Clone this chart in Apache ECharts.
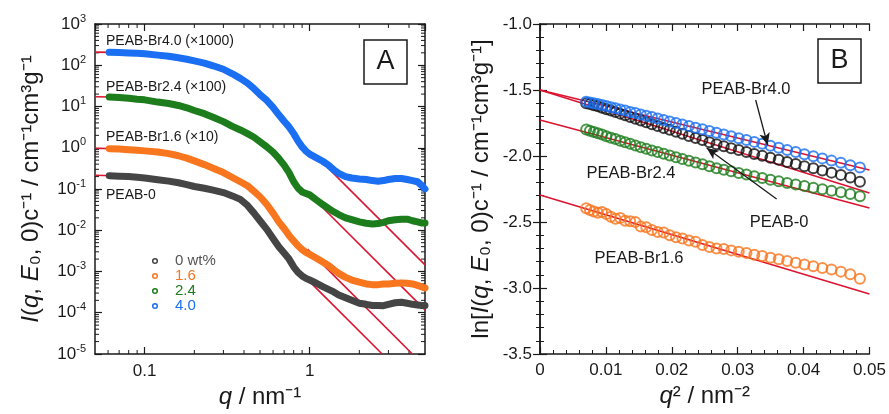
<!DOCTYPE html>
<html><head><meta charset="utf-8">
<script src="https://cdn.jsdelivr.net/npm/echarts@6/dist/echarts.min.js"></script>
<style>html,body{margin:0;padding:0;background:#fff}#c{width:889px;height:414px}</style>
</head><body><div id="c"></div>
<script>
// ---------- Panel A data: I(q) on log-log ----------
const qA = [0.061,0.07,0.08,0.09,0.1,0.12,0.14,0.16,0.18,0.2,0.23,0.26,0.3,0.34,0.38,0.42,0.46,0.5,0.55,0.6,0.65,0.7,0.75,0.8,0.85,0.9,0.95,1.0,1.1,1.2,1.3,1.4,1.5,1.65,1.8,2.0,2.2,2.4,2.6,2.8,3.0,3.3,3.6,3.9,4.2,4.5,4.8,5.0];
const IA_grey = [0.21,0.205,0.2,0.192,0.185,0.168,0.155,0.142,0.128,0.115,0.104,0.094,0.082,0.068,0.056,0.040,0.026,0.017,0.0105,0.0063,0.0040,0.0028,0.0020,0.0013,0.00095,0.00078,0.00068,0.00062,0.00052,0.00043,0.00037,0.00032,0.00027,0.00023,0.0002,0.00017,0.00016,0.00015,0.00015,0.000148,0.00016,0.000175,0.00018,0.00017,0.00016,0.000155,0.00015,0.00015];
const IA_orange = [0.95,0.93,0.90,0.87,0.84,0.79,0.72,0.64,0.56,0.48,0.39,0.32,0.25,0.19,0.15,0.12,0.088,0.065,0.042,0.026,0.016,0.011,0.0075,0.0055,0.0042,0.0034,0.0029,0.0026,0.0021,0.0017,0.0014,0.0011,0.0009,0.00072,0.00062,0.00055,0.0005,0.00048,0.00048,0.0005,0.0005,0.00052,0.00053,0.00052,0.0005,0.00046,0.00042,0.0004];
const IA_green = [17.0,16.5,15.8,15.0,14.5,12.8,11.8,10.6,9.3,8.0,6.7,5.5,4.3,3.3,2.7,2.2,1.8,1.4,1.05,0.78,0.55,0.38,0.25,0.15,0.105,0.085,0.078,0.072,0.054,0.042,0.034,0.028,0.024,0.020,0.018,0.016,0.0148,0.0142,0.0145,0.0155,0.017,0.018,0.0185,0.0185,0.017,0.016,0.015,0.015];
const IA_blue = [206,203,199,195,190,176,165,152,140,128,113,97,80,62,48,37,27,19.5,14,9.5,6.3,4.4,3.2,2.2,1.45,1.05,0.83,0.70,0.57,0.47,0.38,0.29,0.24,0.20,0.185,0.175,0.17,0.16,0.155,0.16,0.17,0.18,0.18,0.17,0.16,0.15,0.12,0.10];
// Guinier extrapolations (low q) and Porod q^-4 lines (high q), [q, I]
const guinierA_grey = [[0.05,0.215],[0.064,0.21]];
const guinierA_orange = [[0.05,0.97],[0.064,0.95]];
const guinierA_green = [[0.05,17.3],[0.064,17.0]];
const guinierA_blue = [[0.05,208],[0.064,205]];
const porodA_grey = [[1.0,5.7e-4],[2.75,1.0e-5]];
const porodA_orange = [[0.97,3.48e-3],[4.19,1.0e-5]];
const porodA_green = [[0.95,0.0896],[5.0,1.17e-4]];
const porodA_blue = [[1.1,0.618],[5.0,1.45e-3]];
const xTicksA = [0.1, 1];
// ---------- Panel B data: Guinier plot ----------
const q2B = [0.00701,0.00757,0.00816,0.00878,0.00941,0.01007,0.01075,0.01145,0.01217,0.01292,0.01369,0.01448,0.01529,0.01613,0.01698,0.01786,0.01877,0.01969,0.02064,0.02161,0.0226,0.02361,0.02465,0.02571,0.02679,0.02789,0.02901,0.03016,0.03133,0.03252,0.03373,0.03497,0.03623,0.03751,0.03881,0.04013,0.04148,0.04285,0.04424,0.04566,0.04709,0.04855];
const lnB_blue = [-1.589,-1.594,-1.600,-1.606,-1.614,-1.622,-1.630,-1.639,-1.647,-1.656,-1.666,-1.675,-1.685,-1.695,-1.705,-1.716,-1.727,-1.738,-1.750,-1.761,-1.773,-1.786,-1.798,-1.811,-1.824,-1.837,-1.851,-1.865,-1.879,-1.893,-1.908,-1.923,-1.938,-1.954,-1.970,-1.986,-2.002,-2.018,-2.035,-2.052,-2.070,-2.087];
const lnB_grey = [-1.600,-1.607,-1.615,-1.624,-1.634,-1.645,-1.656,-1.667,-1.679,-1.692,-1.705,-1.718,-1.731,-1.745,-1.759,-1.773,-1.788,-1.802,-1.817,-1.832,-1.848,-1.863,-1.879,-1.895,-1.911,-1.926,-1.941,-1.955,-1.970,-1.985,-1.999,-2.014,-2.029,-2.045,-2.061,-2.077,-2.093,-2.109,-2.126,-2.143,-2.162,-2.195];
const lnB_green = [-1.800,-1.808,-1.818,-1.828,-1.838,-1.850,-1.862,-1.872,-1.884,-1.895,-1.907,-1.920,-1.933,-1.946,-1.958,-1.970,-1.983,-1.996,-2.009,-2.022,-2.036,-2.049,-2.063,-2.078,-2.092,-2.104,-2.116,-2.128,-2.141,-2.154,-2.166,-2.180,-2.192,-2.205,-2.216,-2.228,-2.240,-2.252,-2.263,-2.275,-2.288,-2.305];
const lnB_orange = [-2.396,-2.41,-2.42,-2.43,-2.425,-2.44,-2.46,-2.475,-2.47,-2.49,-2.495,-2.50,-2.535,-2.54,-2.56,-2.575,-2.58,-2.60,-2.615,-2.625,-2.64,-2.65,-2.675,-2.69,-2.70,-2.705,-2.715,-2.725,-2.735,-2.748,-2.758,-2.77,-2.782,-2.795,-2.808,-2.822,-2.835,-2.848,-2.86,-2.876,-2.895,-2.93];
const fitB_blue = [[0,-1.5],[0.05,-2.106]];
const fitB_grey = [[0,-1.5],[0.05,-2.28]];
const fitB_green = [[0,-1.727],[0.05,-2.394]];
const fitB_orange = [[0,-2.295],[0.05,-3.045]];
const arrowB_Br40 = [[0.03273,-1.576],[0.03455,-1.917]];
const arrowB_0 = [[0.03591,-2.326],[0.0253,-1.939]];

const C = {grey:'#454545', orange:'#f7761e', green:'#1d7d1d', blue:'#1a6ff2', red:'#dc1430', ink:'#1a1a1a'};
const FONT = '"Liberation Sans", Arial, sans-serif';
const NAME_FS = 24, TICK_FS = 17;

const zip = (xs, ys) => xs.map((x, i) => [x, ys[i]]);

// minor tick positions for log axes
const xMinorA = [], yMinorA = [];
for (let e = -2; e <= 0; e++) for (let m = 2; m <= 9; m++) { const v = m * Math.pow(10, e); if (v > 0.05 && v < 5) xMinorA.push([v, 1, 0]); }
for (let e = -5; e <= 2; e++) for (let m = 2; m <= 9; m++) yMinorA.push([0.1, m * Math.pow(10, e), 1]);

function minorTicks(params, api) {
  const cs = params.coordSys, len = 4, kind = api.value(2);
  const st = {stroke: C.ink, lineWidth: 1};
  if (kind === 0) {
    const x = api.coord([api.value(0), 1])[0];
    return {type:'group', children:[
      {type:'line', shape:{x1:x, y1:cs.y+cs.height, x2:x, y2:cs.y+cs.height-len}, style:st},
      {type:'line', shape:{x1:x, y1:cs.y, x2:x, y2:cs.y+len}, style:st}]};
  }
  const y = api.coord([0.1, api.value(1)])[1];
  return {type:'group', children:[
    {type:'line', shape:{x1:cs.x, y1:y, x2:cs.x+len, y2:y}, style:st},
    {type:'line', shape:{x1:cs.x+cs.width, y1:y, x2:cs.x+cs.width-len, y2:y}, style:st}]};
}

const axLine = {show:true, lineStyle:{color:C.ink, width:1.5}};
const tick = {show:true, inside:true, length:7, lineStyle:{color:C.ink, width:1.2}};
const minor = {show:true, splitNumber:5, length:4, lineStyle:{color:C.ink, width:1}};
const lbl = {color:C.ink, fontSize:TICK_FS, fontFamily:FONT};
const nameStyle = (extraRich) => ({fontSize:NAME_FS, color:C.ink, fontFamily:FONT,
  rich:Object.assign({i:{fontStyle:'italic', fontSize:NAME_FS, fontFamily:FONT, color:C.ink}, n:{fontSize:NAME_FS, fontFamily:FONT, color:C.ink}}, extraRich || {})});

function pow10Label(v) {
  const e = Math.round(Math.log10(v));
  return '{b|10}{s|' + e + '}';
}

const curveA = (name, data, color) => ({type:'line', name, xAxisIndex:0, yAxisIndex:0, data, showSymbol:false,
  lineStyle:{color, width:7, cap:'round', join:'round'}, itemStyle:{color}, z:3, silent:true});
const redA = (data) => ({type:'line', xAxisIndex:0, yAxisIndex:0, data, showSymbol:false,
  lineStyle:{color:C.red, width:1.6}, z:2, silent:true});
const scatB = (name, data, color) => ({type:'scatter', name, xAxisIndex:2, yAxisIndex:2, data, symbol:'circle', symbolSize:10,
  itemStyle:{color:'rgba(0,0,0,0)', borderColor:color, borderWidth:2}, z:3, silent:true});
const redB = (data) => ({type:'line', xAxisIndex:2, yAxisIndex:2, data, showSymbol:false,
  lineStyle:{color:C.red, width:1.6}, z:2, silent:true});

const chart = echarts.init(document.getElementById('c'), null, {renderer:'canvas'});
chart.setOption({
  animation:false,
  backgroundColor:'#fff',
  textStyle:{fontFamily:FONT},
  grid:[{left:95, top:24, width:330, height:330}, {left:540, top:24, width:330, height:330}],
  xAxis:[
    {type:'log', gridIndex:0, min:0.05, max:5, position:'bottom', axisLine:axLine, axisTick:tick, splitLine:{show:false},
     axisLabel:Object.assign({}, lbl, {margin:9, showMinLabel:false, showMaxLabel:false,
       formatter:(v)=>{ const r = xTicksA.find(t => Math.abs(t - v) / t < 1e-6); return r === undefined ? '' : String(r); }}),
     name:'{i|q} / nm⁻¹', nameLocation:'middle', nameGap:30, nameTextStyle:nameStyle()},
    {type:'log', gridIndex:0, min:0.05, max:5, position:'top', axisLine:axLine, axisTick:tick, axisLabel:{show:false}, splitLine:{show:false}},
    {type:'value', gridIndex:1, min:0, max:0.05, interval:0.01, position:'bottom', axisLine:axLine, axisTick:tick, minorTick:minor, splitLine:{show:false},
     axisLabel:Object.assign({}, lbl, {margin:8, formatter:(v)=> v === 0 ? '0' : v.toFixed(2)}),
     name:'{i|q}² / nm⁻²', nameLocation:'middle', nameGap:30, nameTextStyle:nameStyle()},
    {type:'value', gridIndex:1, min:0, max:0.05, interval:0.01, position:'top', axisLine:axLine, axisTick:tick, minorTick:minor, axisLabel:{show:false}, splitLine:{show:false}}
  ],
  yAxis:[
    {type:'log', gridIndex:0, min:1e-5, max:1e3, position:'left', axisLine:axLine, axisTick:tick, splitLine:{show:false},
     axisLabel:{margin:9, color:C.ink, fontFamily:FONT, formatter:pow10Label,
       rich:{b:{fontSize:TICK_FS, lineHeight:22, fontFamily:FONT, color:C.ink}, s:{fontSize:11, lineHeight:11, verticalAlign:'top', fontFamily:FONT, color:C.ink}}},
     name:'{i|I}({i|q}, {i|E}₀, 0)c⁻¹ / cm⁻¹cm³g⁻¹', nameLocation:'middle', nameGap:52, nameRotate:90, nameTextStyle:nameStyle()},
    {type:'log', gridIndex:0, min:1e-5, max:1e3, position:'right', axisLine:axLine, axisTick:tick, axisLabel:{show:false}, splitLine:{show:false}},
    {type:'value', gridIndex:1, min:-3.5, max:-1.0, interval:0.5, position:'left', axisLine:axLine, axisTick:tick, minorTick:minor, splitLine:{show:false},
     axisLabel:Object.assign({}, lbl, {margin:8, formatter:(v)=> v.toFixed(1)}),
     name:'ln[{i|I}({i|q}, {i|E}₀, 0)c⁻¹ / cm⁻¹cm³g⁻¹]', nameLocation:'middle', nameGap:47, nameRotate:90, nameTextStyle:nameStyle()},
    {type:'value', gridIndex:1, min:-3.5, max:-1.0, interval:0.5, position:'right', axisLine:axLine, axisTick:tick, minorTick:minor, axisLabel:{show:false}, splitLine:{show:false}}
  ],
  series:[
    {type:'custom', xAxisIndex:0, yAxisIndex:0, data:xMinorA.concat(yMinorA), renderItem:minorTicks, clip:false, silent:true, z:1},
    redA(guinierA_grey), redA(guinierA_orange), redA(guinierA_green), redA(guinierA_blue),
    redA(porodA_grey), redA(porodA_orange), redA(porodA_green), redA(porodA_blue),
    curveA('0 wt%', zip(qA, IA_grey), C.grey),
    curveA('1.6', zip(qA, IA_orange), C.orange),
    curveA('2.4', zip(qA, IA_green), C.green),
    curveA('4.0', zip(qA, IA_blue), C.blue),
    redB(fitB_blue), redB(fitB_grey), redB(fitB_green), redB(fitB_orange),
    scatB('PEAB-0', zip(q2B, lnB_grey), '#111111'),
    scatB('PEAB-Br1.6', zip(q2B, lnB_orange), C.orange),
    scatB('PEAB-Br2.4', zip(q2B, lnB_green), C.green),
    scatB('PEAB-Br4.0', zip(q2B, lnB_blue), C.blue),
    {type:'line', xAxisIndex:2, yAxisIndex:2, data:[], silent:true,
     markLine:{silent:true, symbol:['none','arrow'], symbolSize:[8,12], label:{show:false},
       lineStyle:{color:C.ink, width:1.3, type:'solid'},
       data:[[{coord:arrowB_Br40[0]},{coord:arrowB_Br40[1]}],[{coord:arrowB_0[0]},{coord:arrowB_0[1]}]]}}
  ],
  graphic:[
    {type:'text', left:106, top:34, style:{text:'PEAB-Br4.0 (×1000)', fontSize:14, fontFamily:FONT, fill:C.ink}},
    {type:'text', left:106, top:80, style:{text:'PEAB-Br2.4 (×100)', fontSize:14, fontFamily:FONT, fill:C.ink}},
    {type:'text', left:106, top:130, style:{text:'PEAB-Br1.6 (×10)', fontSize:14, fontFamily:FONT, fill:C.ink}},
    {type:'text', left:106, top:188, style:{text:'PEAB-0', fontSize:14, fontFamily:FONT, fill:C.ink}},
    {type:'rect', shape:{x:364, y:40, width:43, height:44}, style:{fill:'#fff', stroke:C.ink, lineWidth:1.5}},
    {type:'text', x:385.5, y:62, style:{text:'A', fontSize:27, fontFamily:FONT, fill:C.ink, align:'center', verticalAlign:'middle'}},
    {type:'rect', shape:{x:818, y:39, width:43, height:44}, style:{fill:'#fff', stroke:C.ink, lineWidth:1.5}},
    {type:'text', x:839.5, y:61, style:{text:'B', fontSize:27, fontFamily:FONT, fill:C.ink, align:'center', verticalAlign:'middle'}},
    // legend of panel A
    {type:'circle', shape:{cx:155, cy:261, r:2.3}, style:{fill:'none', stroke:C.grey, lineWidth:1.5}},
    {type:'circle', shape:{cx:155, cy:276, r:2.3}, style:{fill:'none', stroke:C.orange, lineWidth:1.5}},
    {type:'circle', shape:{cx:155, cy:291, r:2.3}, style:{fill:'none', stroke:C.green, lineWidth:1.5}},
    {type:'circle', shape:{cx:155, cy:306, r:2.3}, style:{fill:'none', stroke:C.blue, lineWidth:1.5}},
    {type:'text', x:175, y:261, style:{text:'0 wt%', fontSize:15, fontFamily:FONT, fill:'#555', verticalAlign:'middle'}},
    {type:'text', x:175, y:276, style:{text:'1.6', fontSize:15, fontFamily:FONT, fill:C.orange, verticalAlign:'middle'}},
    {type:'text', x:175, y:291, style:{text:'2.4', fontSize:15, fontFamily:FONT, fill:C.green, verticalAlign:'middle'}},
    {type:'text', x:175, y:306, style:{text:'4.0', fontSize:15, fontFamily:FONT, fill:C.blue, verticalAlign:'middle'}},
    // labels of panel B
    {type:'text', x:746, y:89, style:{text:'PEAB-Br4.0', fontSize:16.5, fontFamily:FONT, fill:C.ink, align:'center', verticalAlign:'middle'}},
    {type:'text', x:631, y:173, style:{text:'PEAB-Br2.4', fontSize:16.5, fontFamily:FONT, fill:C.ink, align:'center', verticalAlign:'middle'}},
    {type:'text', x:779, y:222, style:{text:'PEAB-0', fontSize:16.5, fontFamily:FONT, fill:C.ink, align:'center', verticalAlign:'middle'}},
    {type:'text', x:639, y:258, style:{text:'PEAB-Br1.6', fontSize:16.5, fontFamily:FONT, fill:C.ink, align:'center', verticalAlign:'middle'}}
  ]
});
</script></body></html>
